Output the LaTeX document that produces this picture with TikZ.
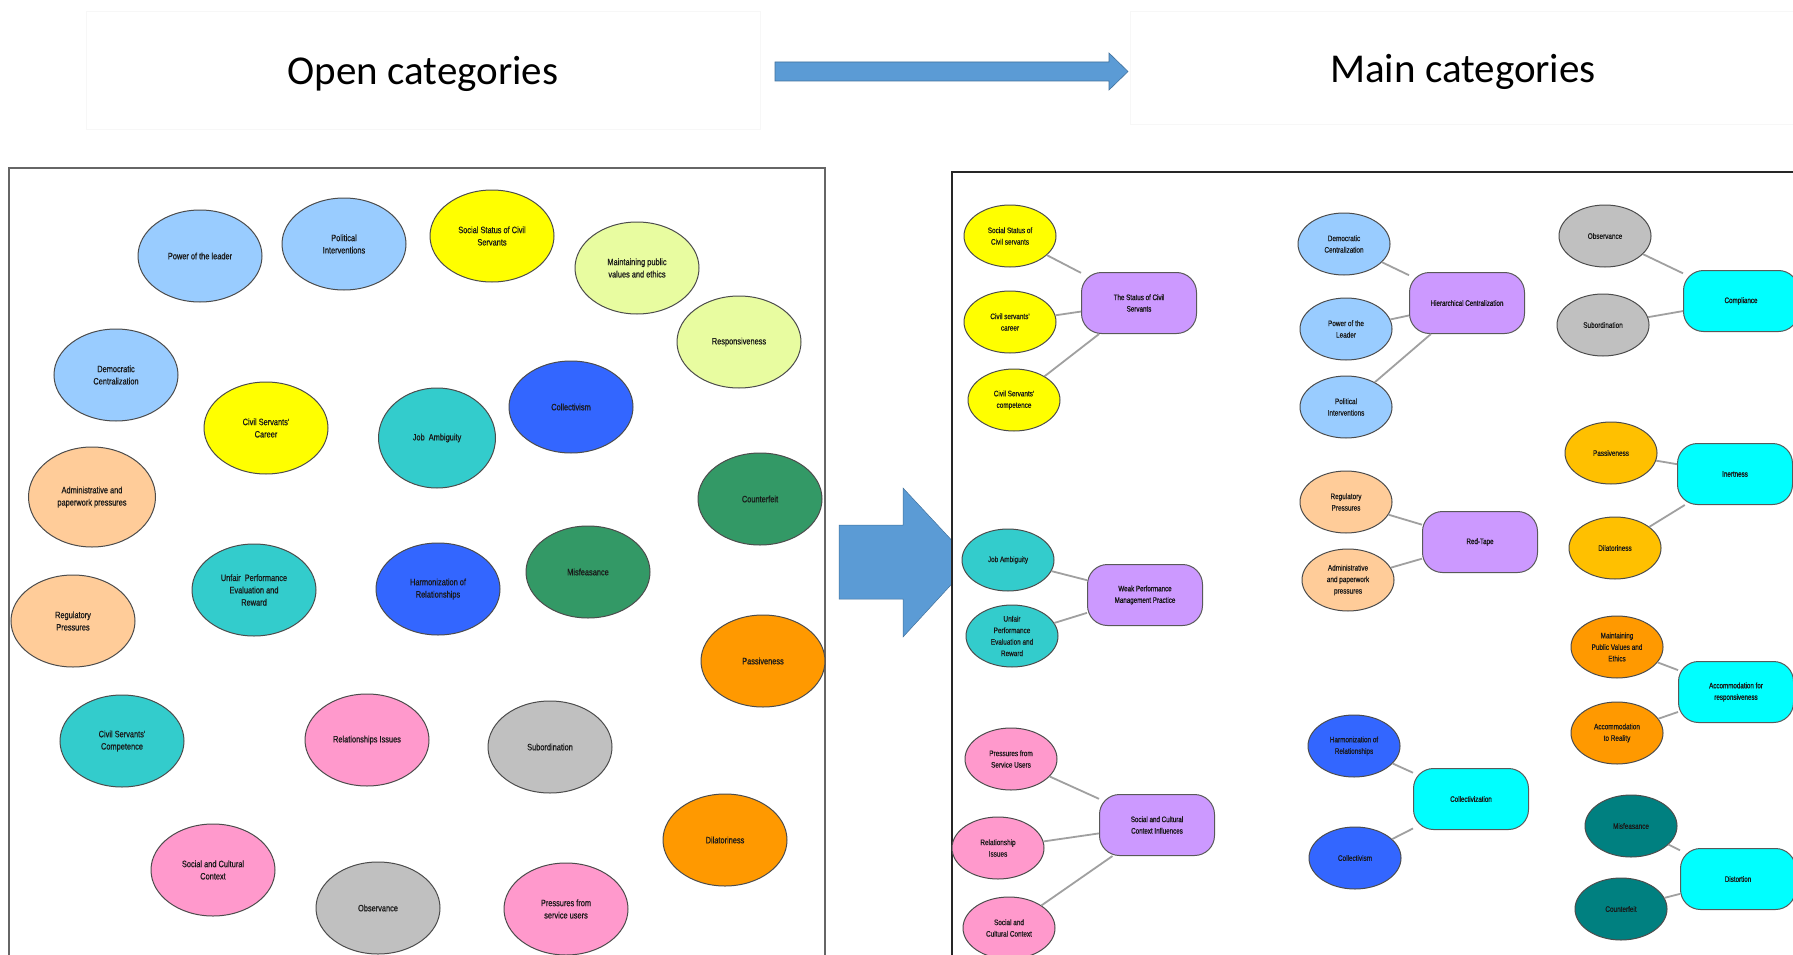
\documentclass[tikz,border=0pt]{standalone}
\usepackage{fontspec}
\usetikzlibrary{shapes.geometric}
\setmainfont{Liberation Sans}
\newfontfamily\titlefont{Carlito}
\newfontfamily\narrowfont[FakeStretch=0.8,FakeBold=0.6]{Liberation Sans}
\newfontfamily\narrowheavy[FakeStretch=0.78,FakeBold=1.2]{Liberation Sans}

\definecolor{lblue}{RGB}{153,204,255}
\definecolor{yel}{RGB}{255,255,0}
\definecolor{lime}{RGB}{232,252,160}
\definecolor{teal1}{RGB}{51,204,204}
\definecolor{blu}{RGB}{51,102,255}
\definecolor{grn}{RGB}{51,153,102}
\definecolor{orng}{RGB}{255,153,0}
\definecolor{gold}{RGB}{255,192,0}
\definecolor{peach}{RGB}{255,204,153}
\definecolor{pink}{RGB}{255,153,204}
\definecolor{gry}{RGB}{192,192,192}
\definecolor{dteal}{RGB}{0,128,128}
\definecolor{purp}{RGB}{204,153,255}
\definecolor{cyn}{RGB}{0,255,255}
\definecolor{arrowblue}{RGB}{91,155,213}
\definecolor{arrowedge}{RGB}{65,113,156}
\definecolor{linkgray}{RGB}{160,160,160}

\tikzset{
  bigoval/.style={ellipse, draw=black!70, line width=1pt, inner sep=0pt,
    minimum width=124pt, minimum height=92pt, align=center, text=black!90,
    font=\narrowfont\fontsize{9.25}{12.3}\selectfont},
  smalloval/.style={ellipse, draw=black!70, line width=1pt, inner sep=0pt,
    minimum width=92pt, minimum height=62pt, align=center, text=black!90,
    font=\narrowfont\fontsize{8}{11.5}\selectfont},
  catbox/.style={rectangle, rounded corners=20pt, draw=black!65, line width=1pt,
    inner sep=0pt, minimum width=115pt, minimum height=61pt, align=center,
    text=black!90, font=\narrowheavy\fontsize{8}{11.5}\selectfont},
  link/.style={draw=linkgray, line width=1.8pt},
  headbox/.style={draw=black!3, line width=0.6pt, fill=white},
  panel/.style={line width=1.8pt}
}

\begin{document}
\begin{tikzpicture}[x=1pt,y=-1pt]
\useasboundingbox (0,0) rectangle (1793,955);
\clip (0,0) rectangle (1793,955);
\fill[white] (0,0) rectangle (1793,955);

% headings
\draw[headbox] (86,11) rectangle (760,129);
\draw[headbox] (1130,11) rectangle (1800,124);
\node[font=\titlefont\fontsize{41}{48}\selectfont] (openTitle) at (423,74) {Open categories};
\node[font=\titlefont\fontsize{41}{48}\selectfont] (mainTitle) at (1463,72) {Main categories};
\draw[fill=arrowblue, draw=arrowedge, line width=0.6pt]
  (775,62) -- (1109,62) -- (1109,53) -- (1128,71.5) -- (1109,90) -- (1109,81) -- (775,81) -- cycle;

% open categories panel
\draw[panel, draw=black!60, fill=white] (9,168) rectangle (825,975);

\node[bigoval, fill=lblue] (lPower) at (200,256) {Power of the leader};
\node[bigoval, fill=lblue] (lPolitical) at (344,244) {Political\\Interventions};
\node[bigoval, fill=yel] (lStatus) at (492,236) {Social Status of Civil\\Servants};
\node[bigoval, fill=lime] (lMaintain) at (637,268) {Maintaining public\\values and ethics};
\node[bigoval, fill=lime] (lResp) at (739,342) {Responsiveness};
\node[bigoval, fill=lblue] (lDemo) at (116,375) {Democratic\\Centralization};
\node[bigoval, fill=yel] (lCareer) at (266,428) {Civil Servants'\\Career};
\node[bigoval, fill=teal1, minimum width=117pt, minimum height=100pt] (lJob) at (437,438) {Job\ \ Ambiguity};
\node[bigoval, fill=blu] (lCollectivism) at (571,407) {Collectivism};
\node[bigoval, fill=peach, minimum width=127pt, minimum height=100pt] (lAdmin) at (92,497) {Administrative and\\paperwork pressures};
\node[bigoval, fill=grn] (lCounterfeit) at (760,499) {Counterfeit};
\node[bigoval, fill=teal1] (lUnfair) at (254,590) {Unfair\ \ Performance\\Evaluation and\\Reward};
\node[bigoval, fill=blu] (lHarmon) at (438,589) {Harmonization of\\Relationships};
\node[bigoval, fill=grn] (lMisf) at (588,572) {Misfeasance};
\node[bigoval, fill=peach] (lRegul) at (73,621) {Regulatory\\Pressures};
\node[bigoval, fill=orng] (lPassive) at (763,661) {Passiveness};
\node[bigoval, fill=teal1] (lCompet) at (122,741) {Civil Servants'\\Competence};
\node[bigoval, fill=pink] (lRelat) at (367,740) {Relationships Issues};
\node[bigoval, fill=gry] (lSubord) at (550,747) {Subordination};
\node[bigoval, fill=orng] (lDilat) at (725,840) {Dilatoriness};
\node[bigoval, fill=pink] (lContext) at (213,870) {Social and Cultural\\Context};
\node[bigoval, fill=gry] (lObserv) at (378,908) {Observance};
\node[bigoval, fill=pink] (lPressure) at (566,909) {Pressures from\\service users};

% transition arrow
\draw[fill=arrowblue, draw=arrowedge, line width=0.5pt]
  (839,525) -- (903,525) -- (903,488) -- (972,562) -- (903,637) -- (903,599) -- (839,599) -- cycle;

% main categories panel
\draw[panel, draw=black!85, fill=white] (952,172) rectangle (1810,975);

% the status of civil servants
\node[smalloval, fill=yel] (rStatus) at (1010,236) {Social Status of\\Civil servants};
\node[smalloval, fill=yel] (rCareer) at (1010,322) {Civil servants'\\career};
\node[smalloval, fill=yel] (rCompet) at (1014,400) {Civil Servants'\\competence};
\node[catbox, fill=purp] (cStatus) at (1139,303) {The Status of Civil\\Servants};
\draw[link] (rStatus) -- (cStatus);
\draw[link] (rCareer) -- (cStatus);
\draw[link] (rCompet) -- (cStatus);

% weak performance management
\node[smalloval, fill=teal1] (rJob) at (1008,560) {Job Ambiguity};
\node[smalloval, fill=teal1] (rUnfair) at (1012,636) {Unfair\\Performance\\Evaluation and\\Reward};
\node[catbox, fill=purp] (cWeak) at (1145,595) {Weak Performance\\Management Practice};
\draw[link] (rJob) -- (cWeak);
\draw[link] (rUnfair) -- (cWeak);

% social and cultural context
\node[smalloval, fill=pink] (rPressure) at (1011,759) {Pressures from\\Service Users};
\node[smalloval, fill=pink] (rRelat) at (998,848) {Relationship\\Issues};
\node[smalloval, fill=pink] (rContext) at (1009,928) {Social and\\Cultural Context};
\node[catbox, fill=purp] (cSocial) at (1157,825) {Social and Cultural\\Context Influences};
\draw[link] (rPressure) -- (cSocial);
\draw[link] (rRelat) -- (cSocial);
\draw[link] (rContext) -- (cSocial);

% hierarchical centralization
\node[smalloval, fill=lblue] (rDemo) at (1344,244) {Democratic\\Centralization};
\node[smalloval, fill=lblue] (rPower) at (1346,329) {Power of the\\Leader};
\node[smalloval, fill=lblue] (rPolitical) at (1346,407) {Political\\Interventions};
\node[catbox, fill=purp] (cHier) at (1467,303) {Hierarchical Centralization};
\draw[link] (rDemo) -- (cHier);
\draw[link] (rPower) -- (cHier);
\draw[link] (rPolitical) -- (cHier);

% red tape
\node[smalloval, fill=peach] (rRegul) at (1346,502) {Regulatory\\Pressures};
\node[smalloval, fill=peach] (rAdmin) at (1348,580) {Administrative\\and paperwork\\pressures};
\node[catbox, fill=purp] (cRed) at (1480,542) {Red-Tape};
\draw[link] (rRegul) -- (cRed);
\draw[link] (rAdmin) -- (cRed);

% collectivization
\node[smalloval, fill=blu] (rHarmon) at (1354,746) {Harmonization of\\Relationships};
\node[smalloval, fill=blu] (rCollectivism) at (1355,858) {Collectivism};
\node[catbox, fill=cyn] (cCollect) at (1471,799) {Collectivization};
\draw[link] (rHarmon) -- (cCollect);
\draw[link] (rCollectivism) -- (cCollect);

% compliance
\node[smalloval, fill=gry] (rObserv) at (1605,236) {Observance};
\node[smalloval, fill=gry] (rSubord) at (1603,325) {Subordination};
\node[catbox, fill=cyn] (cCompl) at (1741,301) {Compliance};
\draw[link] (rObserv) -- (cCompl);
\draw[link] (rSubord) -- (cCompl);

% inertness
\node[smalloval, fill=gold] (rPassive) at (1611,453) {Passiveness};
\node[smalloval, fill=gold] (rDilat) at (1615,548) {Dilatoriness};
\node[catbox, fill=cyn] (cInert) at (1735,474) {Inertness};
\draw[link] (rPassive) -- (cInert);
\draw[link] (rDilat) -- (cInert);

% accommodation for responsiveness
\node[smalloval, fill=orng] (rMaintain) at (1617,647) {Maintaining\\Public Values and\\Ethics};
\node[smalloval, fill=orng] (rReality) at (1617,733) {Accommodation\\to Reality};
\node[catbox, fill=cyn] (cAccom) at (1736,692) {Accommodation for\\responsiveness};
\draw[link] (rMaintain) -- (cAccom);
\draw[link] (rReality) -- (cAccom);

% distortion
\node[smalloval, fill=dteal] (rMisf) at (1631,826) {Misfeasance};
\node[smalloval, fill=dteal] (rCounterfeit) at (1621,909) {Counterfeit};
\node[catbox, fill=cyn] (cDist) at (1738,879) {Distortion};
\draw[link] (rMisf) -- (cDist);
\draw[link] (rCounterfeit) -- (cDist);
\end{tikzpicture}
\end{document}
